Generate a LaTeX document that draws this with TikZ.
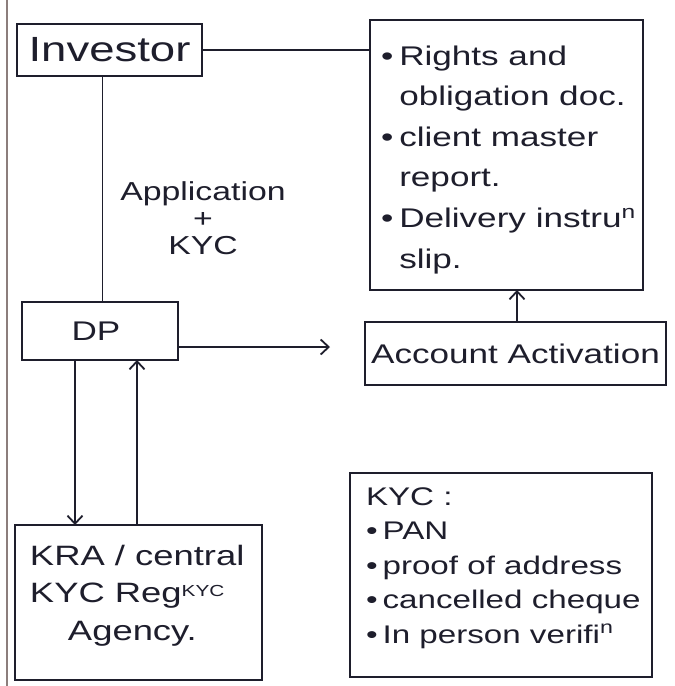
\documentclass[tikz,border=0pt]{standalone}
\usepackage{fontspec}
\setmainfont{Liberation Sans}[FakeStretch=1.3]
\usetikzlibrary{arrows.meta}
\definecolor{ink}{HTML}{1E1E2C}
\definecolor{edge}{HTML}{8C7E7C}

\tikzset{
  box/.style={draw=ink, line width=1.8pt, inner sep=0pt, outer sep=0pt},
  txt/.style={text=ink, inner sep=0pt, outer sep=0pt},
  wire/.style={draw=ink, line width=1.8pt},
  arr/.style={wire, -{Straight Barb[length=8pt,width=15pt,line width=1.8pt]}},
}

\begin{document}
\begin{tikzpicture}[x=1pt, y=-1pt]
\useasboundingbox (0,0) rectangle (675,686);

% paper edge on the left
\draw[edge, line width=2.5pt] (7,0) -- (7,686);

% boxes
\node[box, minimum width=185pt, minimum height=52pt, txt, font=\fontsize{35}{40}\selectfont] (inv) at (109.5,50) {Investor};
\node[box, minimum width=273pt, minimum height=270pt] (docs) at (506.5,155) {};
\node[box, minimum width=156pt, minimum height=58pt, txt, font=\fontsize{27}{30}\selectfont] (dp) at (100,331) {\hspace*{-8pt}DP};
\node[box, minimum width=301pt, minimum height=63pt, txt, font=\fontsize{27}{32}\selectfont] (act) at (515.5,353.5) {Account Activation};
\node[box, minimum width=247pt, minimum height=155pt] (kra) at (138.5,602.5) {};
\node[box, minimum width=302pt, minimum height=204pt] (kyc) at (501,575) {};

% document list
\node[txt, anchor=base west, font=\fontsize{27}{40.6}\selectfont] (doclist) at (381,65) {%
  \begin{tabular}[t]{@{}l@{\hspace{6pt}}l@{}}
    • & Rights and\\
      & obligation doc.\\
    • & client master\\
      & report.\\
    • & Delivery instru\textsuperscript{n}\\
      & slip.
  \end{tabular}};

% KRA text
\node[txt, anchor=base west, font=\fontsize{28}{37.5}\selectfont] (kratext) at (30,565) {%
  \begin{tabular}[t]{@{}l@{}}
    KRA / central\\
    KYC Reg\raisebox{6pt}{\fontsize{16}{16}\selectfont KYC}\\
    \hspace*{38pt}Agency.
  \end{tabular}};

% KYC list
\node[txt, anchor=base west, font=\fontsize{25.5}{34.5}\selectfont] (kyclist) at (366,505) {%
  \begin{tabular}[t]{@{}l@{\hspace{5pt}}l@{}}
    \multicolumn{2}{@{}l@{}}{KYC :}\\
    • & PAN\\
    • & proof of address\\
    • & cancelled cheque\\
    • & In person verifi\textsuperscript{n}
  \end{tabular}};

% label on the investor to DP line
\node[txt, align=center, font=\fontsize{26}{27}\selectfont] (applab) at (203,218) {Application\\ +\\ KYC};

% connectors
\draw[wire] (inv.east) -- (inv.east -| docs.west);
\draw[wire] ([xshift=-7pt]inv.south) -- ([xshift=-7pt]inv.south |- dp.north);

\coordinate (dpend) at (330,347);
\draw[arr] ([yshift=-16pt]dp.east) -- (dpend);

\draw[arr] ([xshift=1.5pt]act.north) -- ([xshift=1.5pt]act.north |- docs.south);

\draw[arr] ([xshift=-25pt]dp.south) -- ([xshift=-25pt]dp.south |- kra.north);
\draw[arr] ([xshift=37pt]dp.south |- kra.north) -- ([xshift=37pt]dp.south);

\end{tikzpicture}
\end{document}
